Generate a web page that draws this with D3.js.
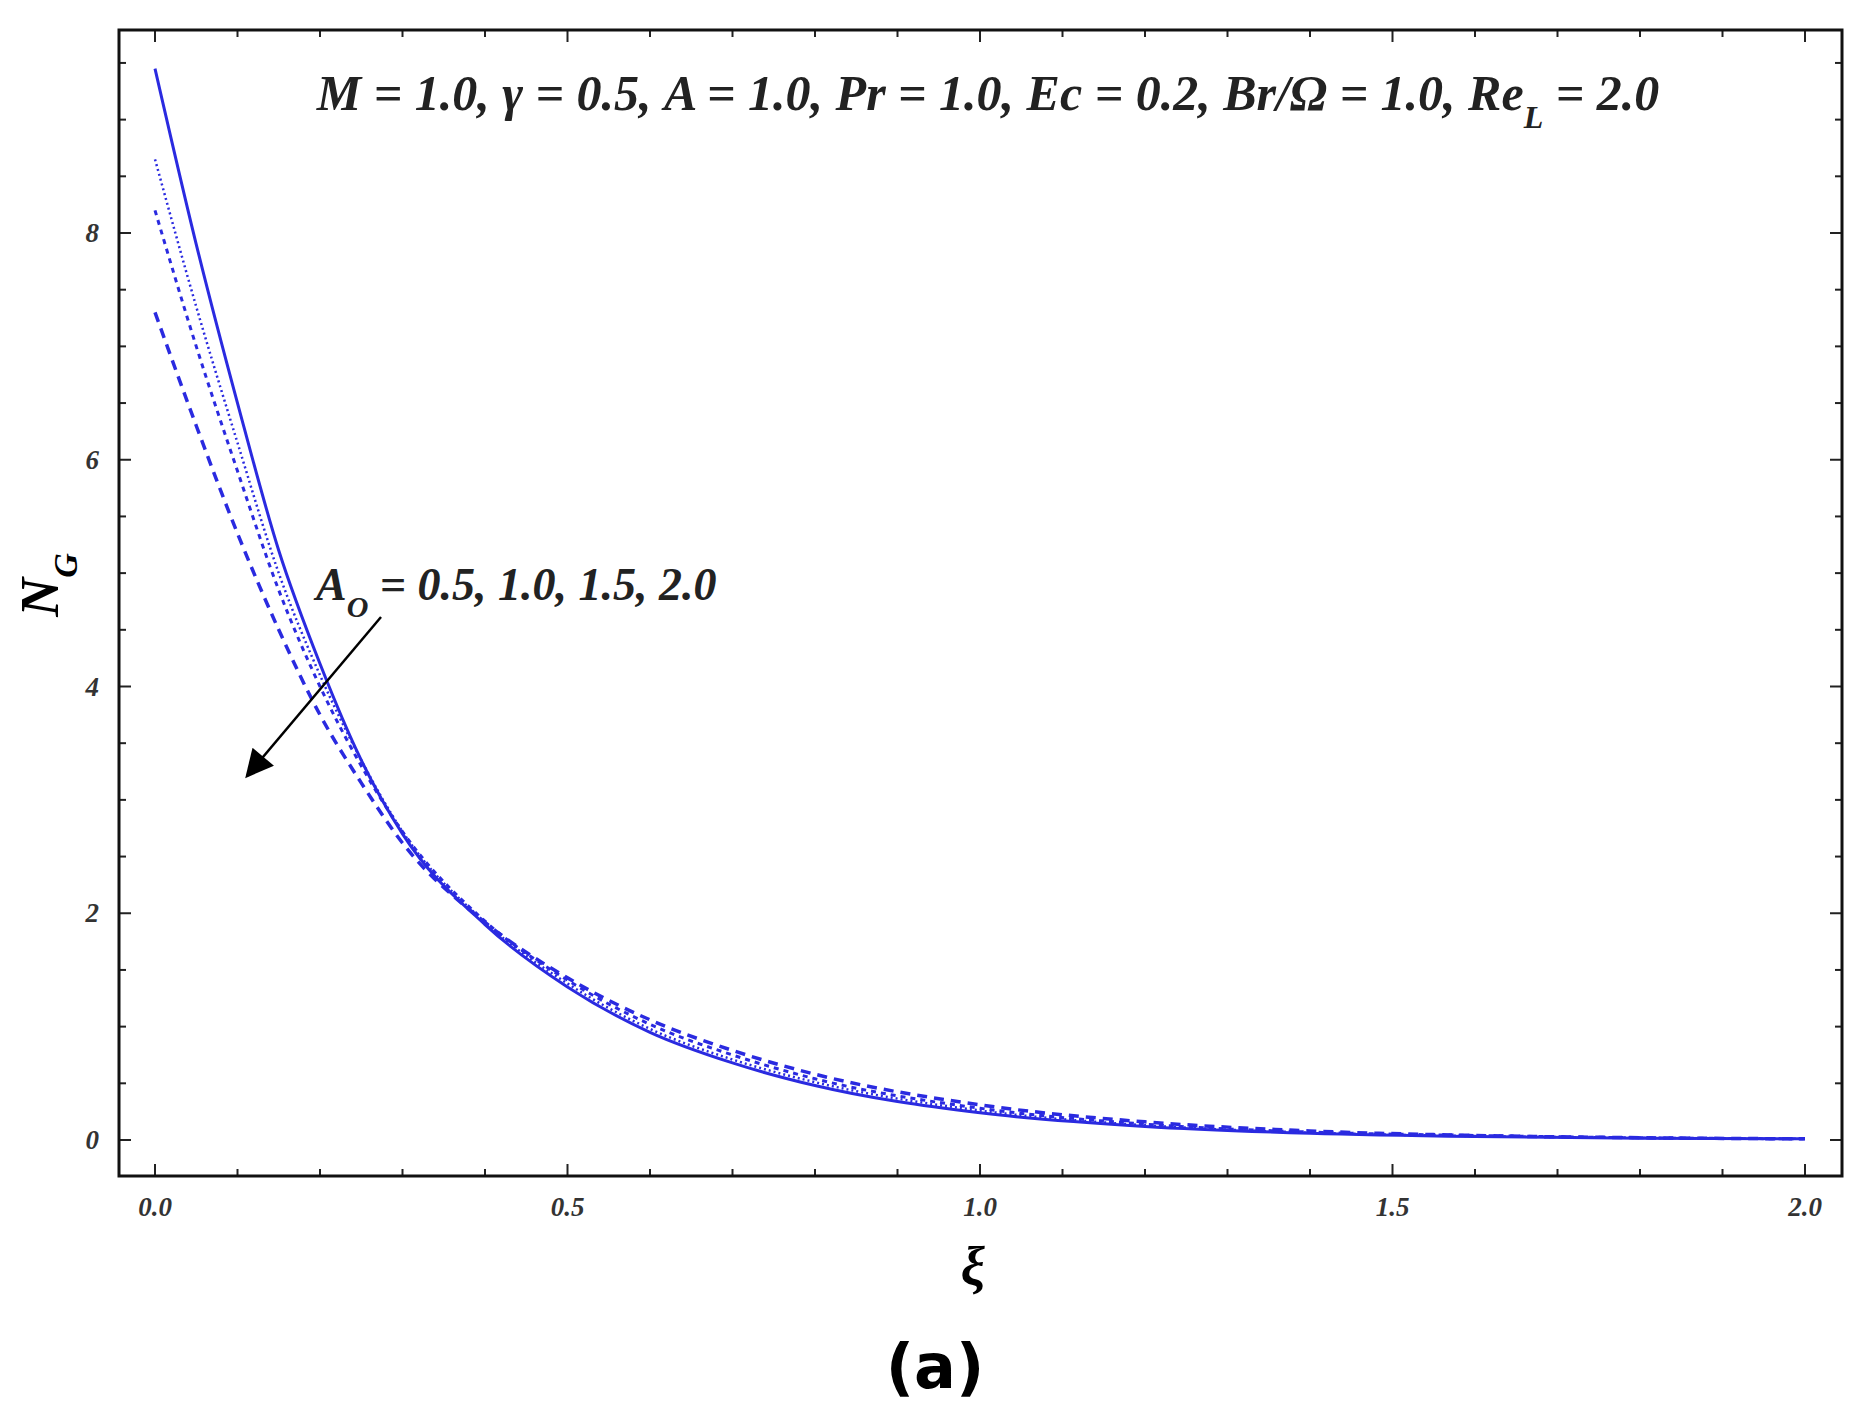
<!DOCTYPE html>
<html>
<head>
<meta charset="utf-8">
<script src="https://cdn.jsdelivr.net/npm/d3@7"></script>
<style>
  body { margin: 0; background: #fff; }
  text { font-family: "Liberation Serif", serif; }
</style>
</head>
<body>
<svg id="chart" width="1862" height="1419"></svg>
<script>
// Data
const xi = [0, 0.05, 0.1, 0.15, 0.2, 0.25, 0.3, 0.4, 0.5, 0.6, 0.7, 0.8, 1.0, 1.2, 1.4, 1.6, 1.8, 2.0]
const ngA05 = [9.45, 7.9, 6.5, 5.2, 4.2, 3.35, 2.7, 1.9, 1.35, 0.95, 0.68, 0.48, 0.24, 0.12, 0.06, 0.03, 0.015, 0.01]
const ngA10 = [8.65, 7.35, 6.15, 5.0, 4.1, 3.35, 2.72, 1.92, 1.38, 0.98, 0.71, 0.51, 0.26, 0.13, 0.065, 0.035, 0.02, 0.01]
const ngA15 = [8.2, 7.0, 5.9, 4.85, 4.0, 3.3, 2.72, 1.93, 1.41, 1.02, 0.75, 0.54, 0.28, 0.14, 0.07, 0.04, 0.02, 0.01]
const ngA20 = [7.3, 6.3, 5.35, 4.5, 3.75, 3.15, 2.62, 1.92, 1.43, 1.06, 0.79, 0.58, 0.31, 0.16, 0.08, 0.04, 0.02, 0.01]
const xTicks = [0, 0.5, 1.0, 1.5, 2.0]
const yTicks = [0, 2, 4, 6, 8]

const series = [
  {values: ngA05, dash: null, width: 3},
  {values: ngA10, dash: "2,3", width: 2.5},
  {values: ngA15, dash: "5,5", width: 3},
  {values: ngA20, dash: "10,7", width: 3.5},
]

// Frame
const frame = {left: 119, right: 1842, top: 30, bottom: 1176}
const svg = d3.select("#chart")

const xScale = d3.scaleLinear().domain([0, 2]).range([155, 1805])
const yScale = d3.scaleLinear().domain([0, 8]).range([1140, 233])

svg.append("clipPath").attr("id", "clip")
  .append("rect")
    .attr("x", frame.left).attr("y", frame.top)
    .attr("width", frame.right - frame.left).attr("height", frame.bottom - frame.top)

// Curves
const line = d3.line()
    .x(function(d) { return xScale(d[0]) })
    .y(function(d) { return yScale(d[1]) })
    .curve(d3.curveMonotoneX)

series.forEach(function(s) {
  svg.append("path")
      .datum(xi.map(function(x, i) { return [x, s.values[i]] }))
      .attr("clip-path", "url(#clip)")
      .attr("fill", "none")
      .attr("stroke", "#2a2ae0")
      .attr("stroke-width", s.width)
      .attr("stroke-dasharray", s.dash)
      .attr("d", line)
})

// Ticks on all four sides, pointing inward
const minorX = d3.range(0, 2.01, 0.1)
const minorY = d3.range(0, 9.6, 0.5)
const tickColor = "#222"

minorX.forEach(function(v) {
  const major = xTicks.some(function(t) { return Math.abs(t - v) < 1e-6 })
  const len = major ? 12 : 7
  svg.append("line").attr("x1", xScale(v)).attr("x2", xScale(v))
    .attr("y1", frame.bottom).attr("y2", frame.bottom - len).attr("stroke", tickColor).attr("stroke-width", 2)
  svg.append("line").attr("x1", xScale(v)).attr("x2", xScale(v))
    .attr("y1", frame.top).attr("y2", frame.top + len).attr("stroke", tickColor).attr("stroke-width", 2)
})
minorY.forEach(function(v) {
  const major = yTicks.indexOf(v) >= 0
  const len = major ? 12 : 7
  svg.append("line").attr("y1", yScale(v)).attr("y2", yScale(v))
    .attr("x1", frame.left).attr("x2", frame.left + len).attr("stroke", tickColor).attr("stroke-width", 2)
  svg.append("line").attr("y1", yScale(v)).attr("y2", yScale(v))
    .attr("x1", frame.right).attr("x2", frame.right - len).attr("stroke", tickColor).attr("stroke-width", 2)
})

// Frame box
svg.append("rect")
    .attr("x", frame.left).attr("y", frame.top)
    .attr("width", frame.right - frame.left).attr("height", frame.bottom - frame.top)
    .attr("fill", "none").attr("stroke", "#111").attr("stroke-width", 3)

// Tick labels
svg.selectAll(".xlab").data(xTicks).enter().append("text")
    .attr("x", function(d) { return xScale(d) })
    .attr("y", frame.bottom + 40)
    .attr("text-anchor", "middle")
    .style("font-size", "27px").style("font-style", "italic").style("font-weight", "bold")
    .attr("fill", "#333")
    .text(function(d) { return d.toFixed(1) })

svg.selectAll(".ylab").data(yTicks).enter().append("text")
    .attr("x", frame.left - 20)
    .attr("y", function(d) { return yScale(d) + 9 })
    .attr("text-anchor", "end")
    .style("font-size", "27px").style("font-style", "italic").style("font-weight", "bold")
    .attr("fill", "#333")
    .text(function(d) { return d })

// Axis titles
svg.append("text")
    .attr("transform", "translate(58,585) rotate(-90)")
    .attr("text-anchor", "middle")
    .style("font-size", "54px").style("font-style", "italic").style("font-weight", "bold")
    .html('N<tspan baseline-shift="sub" font-size="34px">G</tspan>')

svg.append("text")
    .attr("x", 973).attr("y", 1285)
    .attr("text-anchor", "middle")
    .style("font-size", "54px").style("font-style", "italic").style("font-weight", "bold")
    .text("ξ")

// Parameter line
svg.append("text")
    .attr("x", 988).attr("y", 110)
    .attr("text-anchor", "middle")
    .style("font-size", "50px").style("font-style", "italic").style("font-weight", "bold")
    .attr("fill", "#222")
    .html('M = 1.0, γ = 0.5, A = 1.0, Pr = 1.0, Ec = 0.2, Br/Ω = 1.0, Re<tspan baseline-shift="sub" font-size="32px">L</tspan> = 2.0')

// Annotation with arrow
svg.append("text")
    .attr("x", 316).attr("y", 600)
    .style("font-size", "46px").style("font-style", "italic").style("font-weight", "bold")
    .attr("fill", "#222")
    .html('A<tspan baseline-shift="sub" font-size="30px">O</tspan> = 0.5, 1.0, 1.5, 2.0')

svg.append("defs").append("marker")
    .attr("id", "arrow").attr("viewBox", "0 0 10 10")
    .attr("refX", 9).attr("refY", 5)
    .attr("markerWidth", 50).attr("markerHeight", 28).attr("markerUnits", "userSpaceOnUse")
    .attr("orient", "auto")
  .append("path").attr("d", "M0,0 L10,5 L0,10 z").attr("fill", "#000")

svg.append("line")
    .attr("x1", 381).attr("y1", 617).attr("x2", 247).attr("y2", 776)
    .attr("stroke", "#000").attr("stroke-width", 2.5)
    .attr("marker-end", "url(#arrow)")

// Panel label
svg.append("text")
    .attr("x", 935).attr("y", 1388)
    .attr("text-anchor", "middle")
    .style("font-family", "'DejaVu Sans', sans-serif")
    .style("font-size", "62px").style("font-weight", "bold")
    .text("(a)")
</script>
</body>
</html>
